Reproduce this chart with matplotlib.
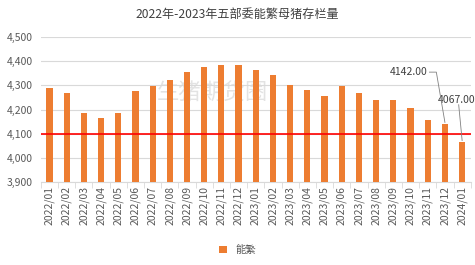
import matplotlib
matplotlib.use("Agg")
import matplotlib.pyplot as plt
import numpy as np

plt.rcParams['font.family'] = ['Noto Sans CJK SC', 'DejaVu Sans']

categories = ["2022/01","2022/02","2022/03","2022/04","2022/05","2022/06","2022/07","2022/08",
              "2022/09","2022/10","2022/11","2022/12","2023/01","2023/02","2023/03","2023/04",
              "2023/05","2023/06","2023/07","2023/08","2023/09","2023/10","2023/11","2023/12","2024/01"]
values = [4288, 4268, 4185, 4167, 4185, 4275, 4296, 4321, 4357, 4378, 4386, 4386,
          4365, 4343, 4303, 4282, 4256, 4296, 4267, 4238, 4238, 4208, 4158, 4142, 4067]
ref_line = 4100
yticks = [3900, 4000, 4100, 4200, 4300, 4400, 4500]
title = "2022年-2023年五部委能繁母猪存栏量"
series_name = "能繁"

fig = plt.figure(figsize=(4.75, 2.65), dpi=100)
ax = fig.add_axes([0.086, 0.313, 0.905, 0.547])
x = np.arange(len(categories))
ax.bar(x, values, width=0.36, color="#ED7D31", label=series_name, zorder=3)
ax.axhline(ref_line, color="#FF0000", lw=1.2, zorder=4)
ax.set_ylim(3900, 4500)
ax.set_xlim(-0.5, len(categories) - 0.5)
ax.set_yticks(yticks)
ax.set_yticklabels([f"{v:,}" for v in yticks])
ax.set_xticks(x)
ax.set_xticklabels(categories, rotation=90)
ax.tick_params(axis='both', labelsize=7.5, colors="#595959", length=0)
ax.tick_params(axis='y', pad=6)
ax.tick_params(axis='x', pad=3)
ax.yaxis.grid(True, color="#D9D9D9", lw=0.8, zorder=0)
for s in ["top", "right", "left"]:
    ax.spines[s].set_visible(False)
ax.spines["bottom"].set_color("#D9D9D9")
ax.set_xticks(np.arange(len(categories) + 1) - 0.5, minor=True)
ax.tick_params(axis='x', which='minor', length=4, color="#D9D9D9")

# watermark
ax.text(0.40, 0.62, "生猪期货圈", transform=ax.transAxes, fontsize=16, color="#E3E3E3",
        ha="center", va="center", zorder=1)

# annotations
i1 = len(values) - 2
ax.text(i1 - 1.0, 4355, f"{values[i1]:.2f}", fontsize=7.5, color="#404040", ha="right", va="center")
ax.plot([i1 - 0.9, i1 - 0.5, i1], [4355, 4355, values[i1] + 5], color="#808080", lw=0.6, zorder=5)
i2 = len(values) - 1
ax.text(i2 - 1.4, 4240, f"{values[i2]:.2f}", fontsize=7.5, color="#404040", ha="left", va="center",
        clip_on=False)
ax.plot([i2 - 0.2, i2], [4220, values[i2] + 5], color="#808080", lw=0.6, zorder=5)

fig.text(0.5, 0.945, title, ha="center", va="center", fontsize=8.7, color="#404040")
fig.legend(loc="center", bbox_to_anchor=(0.5, 0.055), frameon=False, fontsize=7.5,
           handlelength=0.7, handleheight=0.7, labelcolor="#595959")

fig.savefig("out.png", dpi=100)
